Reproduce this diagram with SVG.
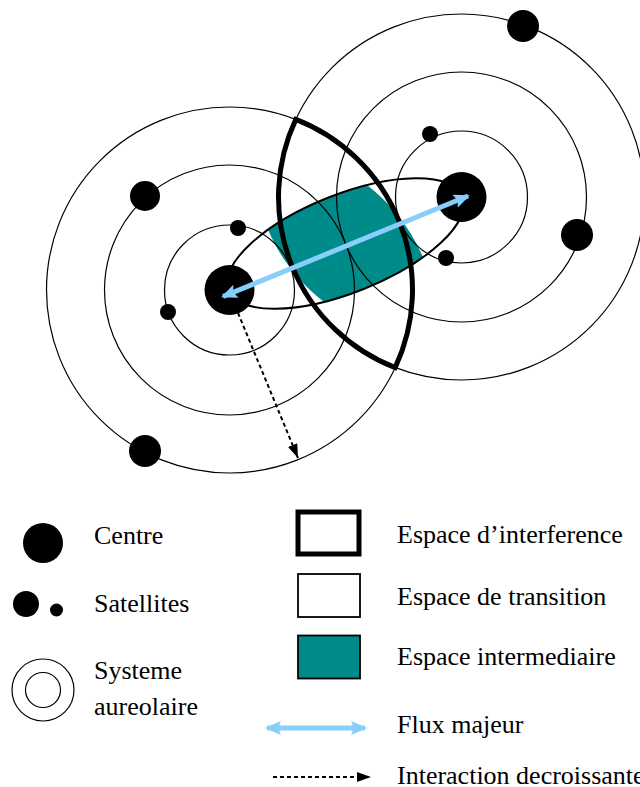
<svg xmlns="http://www.w3.org/2000/svg" width="640" height="787" viewBox="0 0 640 787">
<style>
.orb{fill:none;stroke:#000;stroke-width:1.2}
.dot{fill:#000}
.lbl{font-family:"Liberation Serif","Times New Roman",serif;font-size:26px;fill:#000}
.flux{stroke:#87CEFA;stroke-width:5;fill:none}
.dash{stroke:#000;stroke-width:2;stroke-dasharray:4 3;fill:none}
.thick{fill:none;stroke:#000;stroke-width:5;stroke-linejoin:miter}
.teal{fill:#008B8B}
</style>
<defs>
<marker id="fluxHead" markerUnits="userSpaceOnUse" markerWidth="16" markerHeight="14" refX="14" refY="7" orient="auto-start-reverse" viewBox="0 0 16 14">
<path d="M0,0 L16,7 L0,14 L3,7 z" fill="#87CEFA"/>
</marker>
<marker id="dashHead" markerUnits="userSpaceOnUse" markerWidth="14" markerHeight="10" refX="14" refY="5" orient="auto" viewBox="0 0 14 10">
<path d="M0,0 L14,5 L0,10 z" fill="#000"/>
</marker>
<clipPath id="lensClip">
<path d="M295.8,119.4 A183,183 0 0 1 395.2,367.6 A183,183 0 0 1 295.8,119.4 Z"/>
</clipPath>
</defs>

<g id="espace-intermediaire">
<ellipse class="teal" cx="345.5" cy="243.5" rx="126" ry="49" transform="rotate(-21.8 345.5 243.5)" clip-path="url(#lensClip)"/>
</g>

<g id="systeme-gauche">
<circle class="orb" cx="229.5" cy="290" r="65"/>
<circle class="orb" cx="229.5" cy="290" r="125"/>
<circle class="orb" cx="229.5" cy="290" r="183"/>
</g>
<g id="systeme-droit">
<circle class="orb" cx="461.5" cy="197" r="66"/>
<circle class="orb" cx="461.5" cy="197" r="125"/>
<circle class="orb" cx="461.5" cy="197" r="183"/>
</g>

<g id="espace-transition">
<ellipse cx="345.5" cy="243.5" rx="126" ry="49" transform="rotate(-21.8 345.5 243.5)" fill="none" stroke="#000" stroke-width="2"/>
</g>

<g id="espace-interference">
<path class="thick" d="M295.8,119.4 A183,183 0 0 1 395.2,367.6 A183,183 0 0 1 295.8,119.4 Z"/>
</g>

<g id="centres">
<circle class="dot" cx="229.5" cy="290" r="25"/>
<circle class="dot" cx="461.5" cy="197" r="25"/>
</g>
<g id="satellites">
<circle class="dot" cx="145" cy="196" r="15"/>
<circle class="dot" cx="238" cy="228" r="8"/>
<circle class="dot" cx="168" cy="312" r="8"/>
<circle class="dot" cx="145" cy="451" r="16"/>
<circle class="dot" cx="430" cy="134" r="8"/>
<circle class="dot" cx="446" cy="258" r="8"/>
<circle class="dot" cx="577" cy="235" r="16"/>
<circle class="dot" cx="523" cy="26" r="16"/>
</g>

<g id="connectors">
<line class="flux" x1="223" y1="296.5" x2="468" y2="196" marker-start="url(#fluxHead)" marker-end="url(#fluxHead)"/>
<line class="dash" x1="238" y1="313" x2="298" y2="458" marker-end="url(#dashHead)"/>
</g>

<g id="legend-centre">
<circle class="dot" cx="43" cy="543" r="20"/>
<text class="lbl" x="94" y="544">Centre</text>
</g>
<g id="legend-satellites">
<circle class="dot" cx="26" cy="604" r="13"/>
<circle class="dot" cx="56.5" cy="610" r="6.5"/>
<text class="lbl" x="94" y="612">Satellites</text>
</g>
<g id="legend-systeme">
<circle class="orb" cx="43" cy="690" r="31"/>
<circle class="orb" cx="43" cy="690" r="17.5"/>
<text class="lbl" x="94" y="679">Systeme</text>
<text class="lbl" x="94" y="715">aureolaire</text>
</g>
<g id="legend-interference">
<rect x="298" y="512" width="61" height="42" fill="#fff" stroke="#000" stroke-width="5"/>
<text class="lbl" x="397" y="543">Espace d’interference</text>
</g>
<g id="legend-transition">
<rect x="298" y="574" width="62" height="43" fill="#fff" stroke="#000" stroke-width="1.8"/>
<text class="lbl" x="397" y="605">Espace de transition</text>
</g>
<g id="legend-intermediaire">
<rect x="298" y="635.5" width="62" height="43" class="teal" stroke="#000" stroke-width="1.8"/>
<text class="lbl" x="397" y="665">Espace intermediaire</text>
</g>
<g id="legend-flux">
<line class="flux" x1="267" y1="728" x2="365" y2="728" marker-start="url(#fluxHead)" marker-end="url(#fluxHead)"/>
<text class="lbl" x="397" y="733">Flux majeur</text>
</g>
<g id="legend-interaction">
<line class="dash" x1="273" y1="777" x2="371" y2="777" marker-end="url(#dashHead)"/>
<text class="lbl" x="397" y="784">Interaction decroissante</text>
</g>
</svg>
